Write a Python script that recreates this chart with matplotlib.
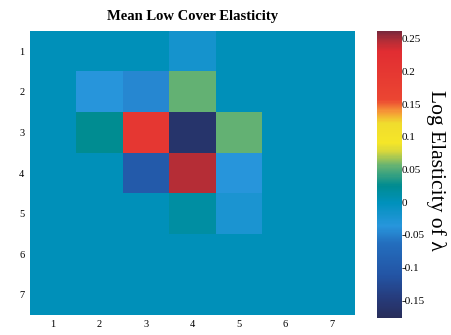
import numpy as np
import matplotlib
matplotlib.use("Agg")
import matplotlib.pyplot as plt
from matplotlib.colors import LinearSegmentedColormap

title = "Mean Low Cover Elasticity"
x_labels = ["1", "2", "3", "4", "5", "6", "7"]
y_labels = ["1", "2", "3", "4", "5", "6", "7"]
cbar_ticks = [0.25, 0.2, 0.15, 0.1, 0.05, 0, -0.05, -0.1, -0.15]
cbar_ticklabels = ["0.25", "0.2", "0.15", "0.1", "0.05", "0", "-0.05", "-0.1", "-0.15"]
cbar_label = "Log Elasticity of λ"
vmin, vmax = -0.177, 0.262

elasticity = np.array([
    [0.0, 0.0, 0.0, -0.02, 0.0, 0.0, 0.0],
    [0.0, -0.035, -0.045, 0.055, 0.0, 0.0, 0.0],
    [0.0, 0.025, 0.20, -0.16, 0.055, 0.0, 0.0],
    [0.0, 0.0, -0.10, 0.245, -0.035, 0.0, 0.0],
    [0.0, 0.0, 0.0, 0.015, -0.025, 0.0, 0.0],
    [0.0, 0.0, 0.0, 0.0, 0.0, 0.0, 0.0],
    [0.0, 0.0, 0.0, 0.0, 0.0, 0.0, 0.0],
])

anchors = [
    (0.00, (40, 45, 90)),
    (0.07, (38, 60, 125)),
    (0.15, (35, 85, 165)),
    (0.26, (35, 110, 190)),
    (0.32, (40, 150, 220)),
    (0.40, (0, 145, 188)),
    (0.46, (0, 140, 145)),
    (0.53, (100, 178, 115)),
    (0.58, (215, 215, 60)),
    (0.61, (245, 230, 40)),
    (0.68, (240, 220, 45)),
    (0.72, (245, 150, 55)),
    (0.76, (235, 70, 50)),
    (0.93, (225, 45, 50)),
    (0.97, (175, 45, 55)),
    (1.00, (120, 40, 60)),
]
cmap = LinearSegmentedColormap.from_list(
    "scan_jet", [(p, tuple(c / 255 for c in rgb)) for p, rgb in anchors], N=256)

plt.rcParams['font.family'] = ['Liberation Serif', 'DejaVu Serif']

fig = plt.figure(figsize=(4.52, 3.35), dpi=100)
ax = fig.add_axes([0.066, 0.06, 0.719, 0.847])
n = elasticity.shape[0]
im = ax.imshow(elasticity, cmap=cmap, vmin=vmin, vmax=vmax, aspect='auto',
               interpolation='nearest',
               extent=(0.5, n + 0.5, n + 0.5, 0.5))
ax.set_xticks(range(1, n + 1))
ax.set_xticklabels(x_labels, fontsize=7.5)
ax.set_yticks(range(1, n + 1))
ax.set_yticklabels(y_labels, fontsize=7.5)
ax.tick_params(length=0, pad=4)
for s in ax.spines.values():
    s.set_visible(False)
ax.set_title(title, fontsize=10.5, fontweight='bold', pad=8)

cax = fig.add_axes([0.834, 0.051, 0.055, 0.857])
cb = fig.colorbar(im, cax=cax)
cb.set_ticks(cbar_ticks)
cb.set_ticklabels(cbar_ticklabels)
cb.ax.tick_params(length=0, labelsize=8, pad=0)
cb.outline.set_visible(False)
fig.text(436 / 452, 1 - 170 / 335, cbar_label, rotation=270, fontsize=15.5,
         ha='center', va='center')

fig.savefig("out.png", dpi=100)
